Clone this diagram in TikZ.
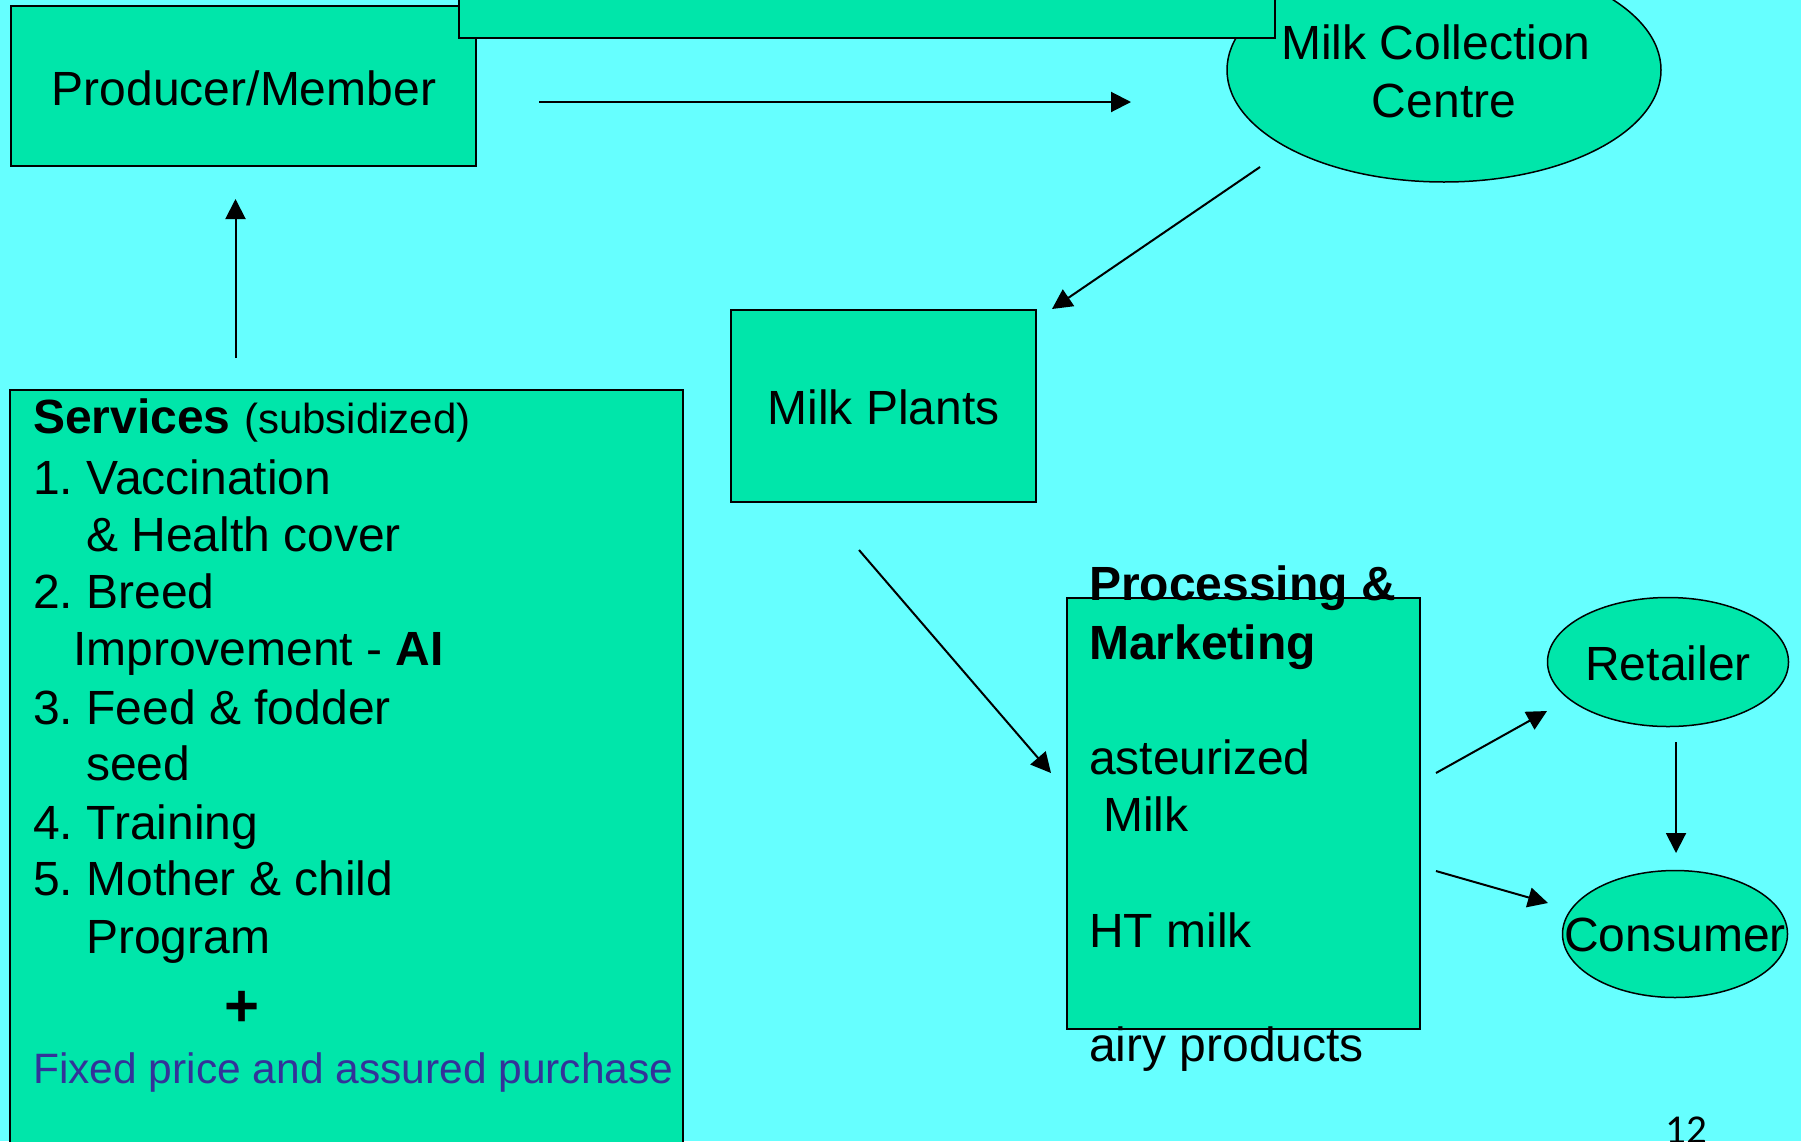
\documentclass[tikz,border=0pt]{standalone}
\usepackage{fontspec}
\setmainfont{Liberation Sans}
\newfontfamily\numfont{Carlito}
\usetikzlibrary{arrows.meta,shapes.geometric}
\definecolor{bg}{HTML}{66FFFF}
\definecolor{boxfill}{HTML}{00E6AA}
\definecolor{purp}{HTML}{333399}
\frenchspacing
\begin{document}
\begin{tikzpicture}[x=1pt,y=-1pt,
  boxstyle/.style={draw=black, line width=1.5pt, fill=boxfill, rectangle, inner sep=0pt},
  ovalstyle/.style={draw=black, line width=1.5pt, fill=boxfill, ellipse, inner sep=0pt},
  lbl/.style={inner sep=0pt, anchor=base, font=\fontsize{48}{57.5}\selectfont\frenchspacing},
  lblw/.style={inner sep=0pt, anchor=base west, font=\fontsize{48}{57.5}\selectfont\frenchspacing},
  arr/.style={line width=2pt, -{Triangle[length=20pt,width=20pt]}}]
\useasboundingbox (0,0) rectangle (1801,1141);
\clip (0,0) rectangle (1801,1141);
\fill[bg] (0,0) rectangle (1801,1141);

% shapes
\node[boxstyle, minimum width=465pt, minimum height=160pt] (producer) at (243.5,86) {};
\node[boxstyle, minimum width=673pt, minimum height=810pt] (services) at (346.5,795) {};
\node[boxstyle, minimum width=305pt, minimum height=192pt] (plants) at (883.5,406) {};
\node[boxstyle, minimum width=353pt, minimum height=431pt] (processing) at (1243.5,813.5) {};
\node[ovalstyle, minimum width=434pt, minimum height=224pt] (mcc) at (1444,70) {};
\node[boxstyle, minimum width=816pt, minimum height=88pt] (topbox) at (867,-6) {};
\node[ovalstyle, minimum width=241pt, minimum height=129pt] (retailer) at (1668,662) {};
\node[ovalstyle, minimum width=225pt, minimum height=127pt] (consumer) at (1675,934) {};

% labels
\node[lbl] (tproducer) at (244,105) {Producer/Member};
\node[lbl] (tmcc1) at (1436,59) {Milk Collection};
\node[lbl] (tmcc2) at (1444,117) {Centre};
\node[lbl] (tplants) at (883.5,424) {Milk Plants};
\node[lbl] (tretailer) at (1668,680) {Retailer};
\node[lbl] (tconsumer) at (1675,951) {Consumer};

\node[lblw] (s0) at (33,433) {\textbf{Services} {\fontsize{42}{50}\selectfont(subsidized)}};
\node[lblw] (s1) at (33,494) {1. Vaccination};
\node[lblw] (s1b) at (86,551) {\& Health cover};
\node[lblw] (s2) at (33,608) {2. Breed};
\node[lblw] (s2b) at (73,665) {Improvement - \textbf{AI}};
\node[lblw] (s3) at (33,724) {3. Feed \& fodder};
\node[lblw] (s3b) at (86,780) {seed};
\node[lblw] (s4) at (33,839) {4. Training};
\node[lblw] (s5) at (33,895) {5. Mother \& child};
\node[lblw] (s5b) at (86,953) {Program};
\node[inner sep=0pt, font=\fontsize{60}{60}\selectfont\bfseries] (plus) at (242,1009) {+};
\node[lblw, text=purp, font=\fontsize{42.5}{50}\selectfont] (fixed) at (33,1083) {Fixed price and assured purchase};

\node[lblw, font=\fontsize{48}{57.5}\selectfont\bfseries\frenchspacing] (p1) at (1089,600) {Processing \&};
\node[lblw, font=\fontsize{48}{57.5}\selectfont\bfseries] (p2) at (1089,659) {Marketing};
\node[lblw] (p3) at (1089,774) {asteurized};
\node[lblw] (p4) at (1103,831) {Milk};
\node[lblw] (p5) at (1089,947) {HT milk};
\node[lblw] (p6) at (1089,1061) {airy products};

\node[inner sep=0pt, anchor=base, font=\fontsize{41}{41}\selectfont\numfont] (pagenum) at (1686,1143) {12};

% connectors
\coordinate (a1s) at (539,102);   \coordinate (a1e) at (1131,102);
\coordinate (a2s) at (1260,167);  \coordinate (a2e) at (1052,309);
\coordinate (a3s) at (859,550);   \coordinate (a3e) at (1051,773);
\coordinate (a4s) at (1436,773);  \coordinate (a4e) at (1547,711);
\coordinate (a5s) at (1436,871);  \coordinate (a5e) at (1548,903);
\coordinate (a6s) at (1676,742);  \coordinate (a6e) at (1676,853);
\coordinate (a7s) at (235.5,358); \coordinate (a7e) at (235.5,199);
\draw[arr] (a1s) -- (a1e);
\draw[arr] (a2s) -- (a2e);
\draw[arr] (a3s) -- (a3e);
\draw[arr] (a4s) -- (a4e);
\draw[arr] (a5s) -- (a5e);
\draw[arr] (a6s) -- (a6e);
\draw[arr] (a7s) -- (a7e);
\end{tikzpicture}
\end{document}
